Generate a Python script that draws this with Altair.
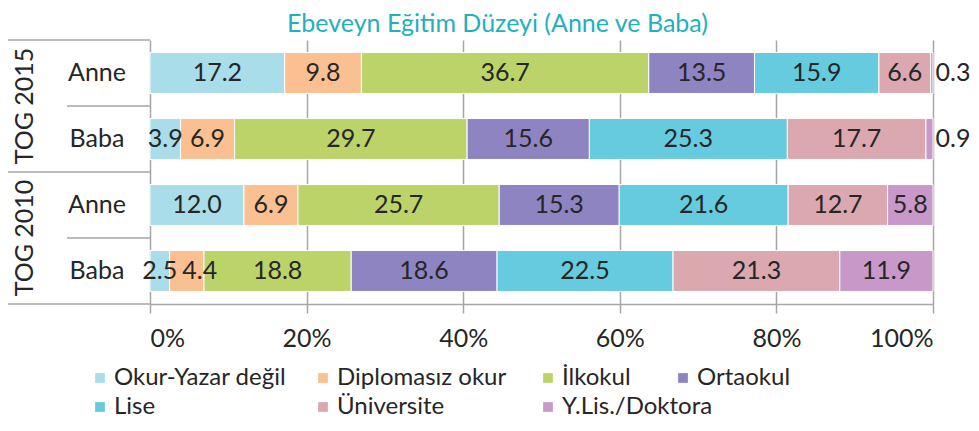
import altair as alt
import pandas as pd

title_text = "Ebeveyn Eğitim Düzeyi (Anne ve Baba)"
row_keys = ["2015-Anne", "2015-Baba", "2010-Anne", "2010-Baba"]
row_persons = ["Anne", "Baba", "Anne", "Baba"]
group_names = ["TOG 2015", "TOG 2010"]
group_first_rows = ["2015-Anne", "2010-Anne"]
categories = ["Okur-Yazar değil", "Diplomasız okur", "İlkokul", "Ortaokul",
              "Lise", "Üniversite", "Y.Lis./Doktora"]
colors = ["#a8dde9", "#fbc092", "#bcd36a", "#8e84c2", "#66cbde", "#dba8b0", "#c899c8"]
anne_2015 = [17.2, 9.8, 36.7, 13.5, 15.9, 6.6, 0.3]
baba_2015 = [3.9, 6.9, 29.7, 15.6, 25.3, 17.7, 0.9]
anne_2010 = [12.0, 6.9, 25.7, 15.3, 21.6, 12.7, 5.8]
baba_2010 = [2.5, 4.4, 18.8, 18.6, 22.5, 21.3, 11.9]
tick_values = [0, 20, 40, 60, 80, 100]
# legend blocks (as laid out in the reference legend)
legend_blocks = [
    ["Okur-Yazar değil", "Diplomasız okur", "Lise", "Üniversite"],
    ["İlkokul", "Y.Lis./Doktora"],
    ["Ortaokul"],
]

FONT = "Lato"
FS = 25
LFS = 24
TXT = "#262626"
LINE = "#a6a6a6"
MIN_GAP = 5.1  # minimum label spacing, in percent units

records = []
for key, vals in zip(row_keys, [anne_2015, baba_2015, anne_2010, baba_2010]):
    cum = 0.0
    prev_label = None
    for i, (cat, v) in enumerate(zip(categories, vals)):
        mid = cum + v / 2
        label = mid if prev_label is None else max(mid, prev_label + MIN_GAP)
        records.append({"row": key, "category": cat, "order": i, "value": v,
                        "start": cum, "end": cum + v, "label_x": label})
        prev_label = label
        cum += v
df = pd.DataFrame(records)
persons_df = pd.DataFrame({"row": row_keys, "person": row_persons})
group_df = pd.DataFrame({"row": group_first_rows, "group": group_names})
bottom_df = pd.DataFrame({"row": [row_keys[-1]]})
cmap = dict(zip(categories, colors))

yscale = alt.Scale(domain=row_keys, paddingInner=0, paddingOuter=0)
xscale = alt.Scale(domain=[0, 100], nice=False)
xaxis = alt.Axis(values=tick_values, labelExpr="datum.value + '%'", grid=True,
                 gridColor=LINE, gridWidth=1.5, domainColor=LINE, domainWidth=1.5,
                 tickColor=LINE, tickWidth=1.5, tickSize=9, labelFontSize=FS,
                 labelFont=FONT, labelColor=TXT, labelPadding=13)

base = alt.Chart(df)

legend_x = [-62, 386, 521]
legend_cols = [2, 1, 1]
legend_dir = ["horizontal", "vertical", "vertical"]
bar_layers = []
for bi, block in enumerate(legend_blocks):
    flt = alt.FieldOneOfPredicate(field="category", oneOf=block)
    bar_layers.append(
        base.transform_filter(flt).mark_bar(
            height=alt.RelativeBandSize(0.62), stroke="white", strokeWidth=1).encode(
            x=alt.X("start:Q", scale=xscale, title=None, axis=xaxis),
            x2="end:Q",
            y=alt.Y("row:N", scale=yscale, axis=None),
            color=alt.Color("category:N",
                            scale=alt.Scale(domain=block, range=[cmap[c] for c in block]),
                            legend=alt.Legend(orient="none", legendX=legend_x[bi], legendY=326,
                                              columns=legend_cols[bi], direction=legend_dir[bi],
                                              title=None, symbolType="square", symbolSize=95,
                                              symbolStrokeWidth=0, labelFontSize=LFS,
                                              labelFont=FONT, labelColor=TXT,
                                              columnPadding=24, rowPadding=5,
                                              labelOffset=2, labelLimit=400)),
        )
    )

inside = base.transform_filter("datum.value >= 2").mark_text(
    font=FONT, fontSize=FS, color=TXT).encode(
    x=alt.X("label_x:Q", scale=xscale, title=None),
    y=alt.Y("row:N", scale=yscale, axis=None),
    text=alt.Text("value:Q", format=".1f"),
)

outside = base.transform_filter("datum.value < 2").mark_text(
    font=FONT, fontSize=FS, color=TXT, dx=20).encode(
    x=alt.X("end:Q", scale=xscale, title=None),
    y=alt.Y("row:N", scale=yscale, axis=None),
    text=alt.Text("value:Q", format=".1f"),
)

persons = alt.Chart(persons_df).mark_text(font=FONT, fontSize=FS, color=TXT, align="center").encode(
    x=alt.value(-53),
    y=alt.Y("row:N", scale=yscale, axis=None),
    text="person:N",
)

groups = alt.Chart(group_df).mark_text(font=FONT, fontSize=FS, color=TXT, angle=270,
                                       align="center", baseline="middle").encode(
    x=alt.value(-125),
    y=alt.Y("row:N", scale=yscale, axis=None, bandPosition=1),
    text="group:N",
)

long_rules = alt.Chart(group_df).mark_rule(color=LINE, strokeWidth=1.5).encode(
    x=alt.value(-143), x2=alt.value(0),
    y=alt.Y("row:N", scale=yscale, axis=None, bandPosition=0),
)

short_rules = alt.Chart(persons_df).transform_filter("datum.person == 'Baba'").mark_rule(
    color=LINE, strokeWidth=1.5).encode(
    x=alt.value(-83), x2=alt.value(0),
    y=alt.Y("row:N", scale=yscale, axis=None, bandPosition=0),
)

bottom_rule = alt.Chart(bottom_df).mark_rule(color=LINE, strokeWidth=1.5).encode(
    x=alt.value(-143), x2=alt.value(0),
    y=alt.Y("row:N", scale=yscale, axis=None, bandPosition=1),
)

chart = alt.layer(long_rules, short_rules, bottom_rule, *bar_layers, inside, outside,
                  persons, groups).resolve_scale(color="independent").resolve_legend(
    color="independent").properties(
    width=783, height=264,
    autosize=alt.AutoSizeParams(type="none"),
    padding={"left": 142, "top": 32, "right": 38, "bottom": 114},
    title=alt.Title(title_text, font=FONT, fontSize=25, fontWeight="normal", color="#1fb1bc",
                    anchor="middle", frame="group", dx=-44, offset=2),
).configure_view(stroke=None)

chart.save("out.html", embed_options={"renderer": "svg", "actions": False})
